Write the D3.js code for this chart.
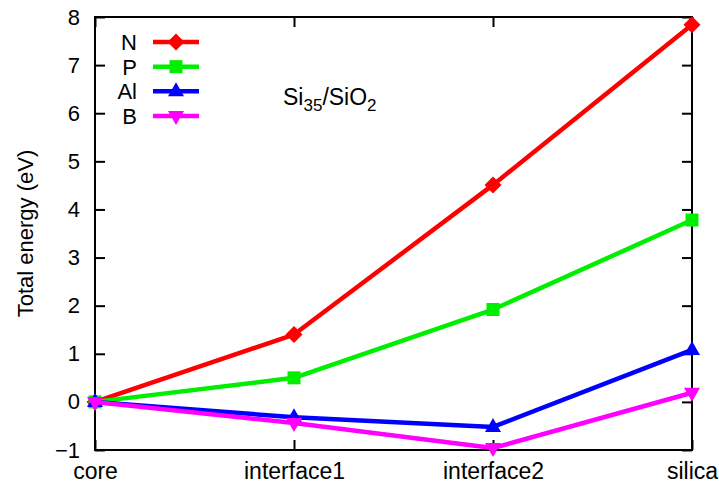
<!DOCTYPE html>
<html><head><meta charset="utf-8">
<script src="https://cdn.jsdelivr.net/npm/d3@7"></script>
<style>body{margin:0;background:#fff}svg{display:block;font-family:"Liberation Sans",Arial,sans-serif}</style>
</head><body>
<svg id="c" width="719" height="488"></svg>
<script>
const categories = ["core","interface1","interface2","silica"];
const seriesNames = ["N","P","Al","B"];
const valuesN  = [0, 1.40, 4.51, 7.84];
const valuesP  = [0, 0.50, 1.92, 3.78];
const valuesAl = [0, -0.32, -0.52, 1.08];
const valuesB  = [0, -0.44, -0.96, 0.19];
const yTicks = [-1,0,1,2,3,4,5,6,7,8];

const series = [
  {name:"N", values:valuesN, color:"#ff0000", marker:"diamond"},
  {name:"P", values:valuesP, color:"#00ee00", marker:"square"},
  {name:"Al", values:valuesAl, color:"#0000ff", marker:"triangle"},
  {name:"B", values:valuesB, color:"#ff00ff", marker:"triangleDown"}
];

const FONT = "Liberation Sans, Arial, sans-serif";
const svg = d3.select("#c");
const L=95, R=692, T=17, B=450;
const x = d3.scalePoint().domain(categories).range([L,R]);
const y = d3.scaleLinear().domain([-1,8]).range([B,T]);

// frame
svg.append("rect").attr("x",L).attr("y",T).attr("width",R-L).attr("height",B-T)
  .attr("fill","none").attr("stroke","#000").attr("stroke-width",2);

// y ticks left & right
const yAxisL = d3.axisLeft(y).tickValues(yTicks).tickSize(-10).tickPadding(15).tickFormat(d=> d<0 ? "\u2212"+Math.abs(d) : d);
const gL = svg.append("g").attr("transform",`translate(${L},0)`).call(yAxisL);
gL.select(".domain").remove();
gL.selectAll("text").attr("font-size",22).attr("fill","#000").attr("font-family",FONT);
gL.selectAll("line").attr("stroke-width",2);
const gR = svg.append("g").attr("transform",`translate(${R},0)`).call(d3.axisRight(y).tickValues(yTicks).tickSize(-10).tickFormat(""));
gR.select(".domain").remove();
gR.selectAll("line").attr("stroke-width",2);

// x ticks bottom & top
const gB = svg.append("g").attr("transform",`translate(0,${B})`).call(d3.axisBottom(x).tickSize(-10).tickPadding(13));
gB.select(".domain").remove();
gB.selectAll("text").attr("font-size",23).attr("fill","#000").attr("font-family",FONT);
gB.selectAll("line").attr("stroke-width",2);
const gT = svg.append("g").attr("transform",`translate(0,${T})`).call(d3.axisTop(x).tickSize(-10).tickFormat(""));
gT.select(".domain").remove();
gT.selectAll("line").attr("stroke-width",2);

// y label
svg.append("text").attr("transform",`translate(33,${(T+B)/2}) rotate(-90)`)
  .attr("text-anchor","middle").attr("font-size",22).text("Total energy (eV)");

function markerPath(type){
  const p = d3.path();
  if(type==="diamond"){ const r=8.5; p.moveTo(0,-r);p.lineTo(r,0);p.lineTo(0,r);p.lineTo(-r,0);p.closePath(); }
  else if(type==="square"){ const r=6.5; p.rect(-r,-r,2*r,2*r); }
  else if(type==="triangle"){ p.moveTo(0,-9);p.lineTo(8,5);p.lineTo(-8,5);p.closePath(); }
  else { p.moveTo(0,9);p.lineTo(8,-5);p.lineTo(-8,-5);p.closePath(); }
  return p.toString();
}
const line = d3.line().x((d,i)=>x(categories[i])).y(d=>y(d));

series.forEach(s=>{
  const g = svg.append("g");
  g.append("path").attr("d",line(s.values)).attr("fill","none").attr("stroke",s.color).attr("stroke-width",4.5).attr("stroke-linejoin","round");
  g.selectAll("path.m").data(s.values).enter().append("path").attr("class","m")
    .attr("d",markerPath(s.marker)).attr("fill",s.color)
    .attr("transform",(d,i)=>`translate(${x(categories[i])},${y(d)})`);
});

// legend
const legY = d3.scalePoint().domain(seriesNames).range([42,116]);
series.forEach(s=>{
  const ly = legY(s.name);
  svg.append("text").attr("x",137).attr("y",ly+8).attr("text-anchor","end").attr("font-size",22).text(s.name);
  svg.append("line").attr("x1",153).attr("x2",199).attr("y1",ly).attr("y2",ly).attr("stroke",s.color).attr("stroke-width",4.5);
  svg.append("path").attr("d",markerPath(s.marker)).attr("fill",s.color)
    .attr("transform",`translate(176,${ly})`);
});

// annotation
const ann = svg.append("text").attr("x",283).attr("y",105).attr("font-size",23);
ann.append("tspan").text("Si");
ann.append("tspan").attr("font-size",17).attr("dy",6).text("35");
ann.append("tspan").attr("dy",-6).text("/SiO");
ann.append("tspan").attr("font-size",17).attr("dy",6).text("2");
</script>
</body></html>
